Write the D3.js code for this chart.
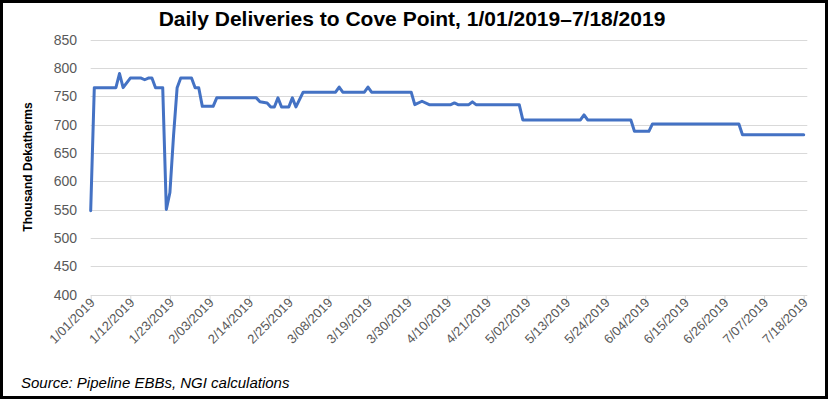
<!DOCTYPE html>
<html><head><meta charset="utf-8">
<script src="https://cdn.jsdelivr.net/npm/d3@7"></script>
<style>html,body{margin:0;padding:0;background:#fff;}svg{display:block;}</style>
</head><body>
<script>
// ---- data (vertices of the line) ----
const dates = ["2019-01-01","2019-01-02","2019-01-08","2019-01-09","2019-01-10","2019-01-12","2019-01-15","2019-01-16","2019-01-17","2019-01-18","2019-01-19","2019-01-21","2019-01-22","2019-01-23","2019-01-24","2019-01-25","2019-01-26","2019-01-29","2019-01-30","2019-01-31","2019-02-01","2019-02-04","2019-02-05","2019-02-16","2019-02-17","2019-02-19","2019-02-20","2019-02-21","2019-02-22","2019-02-23","2019-02-25","2019-02-26","2019-02-27","2019-03-01","2019-03-10","2019-03-11","2019-03-12","2019-03-18","2019-03-19","2019-03-20","2019-03-31","2019-04-01","2019-04-03","2019-04-05","2019-04-11","2019-04-12","2019-04-13","2019-04-16","2019-04-17","2019-04-18","2019-04-30","2019-05-01","2019-05-17","2019-05-18","2019-05-19","2019-05-31","2019-06-01","2019-06-05","2019-06-06","2019-06-30","2019-07-01","2019-07-18"];
const deliveries = [548,765,765,790,765,782,782,779,782,782,765,765,550,580,680,765,782,782,765,765,732,732,747,747,740,738,731,731,747,731,731,747,731,757,757,766,757,757,766,757,757,735,741,735,735,738,735,735,740,735,735,708,708,717,708,708,688,688,701,701,682,682];
const yTicks = [400,450,500,550,600,650,700,750,800,850];
const xTickDates = ["2019-01-01","2019-01-12","2019-01-23","2019-02-03","2019-02-14","2019-02-25","2019-03-08","2019-03-19","2019-03-30","2019-04-10","2019-04-21","2019-05-02","2019-05-13","2019-05-24","2019-06-04","2019-06-15","2019-06-26","2019-07-07","2019-07-18"];
const titleText = "Daily Deliveries to Cove Point, 1/01/2019\u20137/18/2019";
const yTitle = "Thousand Dekatherms";
const sourceText = "Source: Pipeline EBBs, NGI calculations";

const W = 828, H = 399;
const parse = d3.utcParse("%Y-%m-%d");
const fmt = d3.utcFormat("%-m/%d/%Y");
const series = dates.map((d,i)=>({date:parse(d), v:deliveries[i]}));

const svg = d3.select("body").append("svg").attr("width",W).attr("height",H);
svg.append("rect").attr("width",W).attr("height",H).attr("fill","#000");
svg.append("rect").attr("x",3).attr("y",3).attr("width",W-6).attr("height",H-6).attr("fill","#fff");

const x = d3.scaleUtc().domain([parse("2019-01-01"), parse("2019-07-19")]).range([90.7, 807.3]);
const y = d3.scaleLinear().domain([400,850]).range([294.5, 39.5]);

const font = "'Liberation Sans', Arial, sans-serif";

// gridlines
svg.append("g").selectAll("line").data(yTicks.filter(t=>t>400)).join("line")
  .attr("x1",x.range()[0]).attr("x2",x.range()[1])
  .attr("y1",d=>Math.round(y(d))+0.5).attr("y2",d=>Math.round(y(d))+0.5)
  .attr("stroke","#d9d9d9").attr("stroke-width",1);

// y labels
svg.append("g").selectAll("text").data(yTicks).join("text")
  .attr("x",77).attr("y",d=>y(d)).attr("dy","0.36em")
  .attr("text-anchor","end").attr("font-family",font).attr("font-size",14)
  .attr("fill","#595959").text(d=>d);

// x axis
const xAxis = d3.axisBottom(x).tickValues(xTickDates.map(parse)).tickSize(5).tickFormat("");
const gx = svg.append("g").attr("transform",`translate(0,${Math.round(y(400))+0.5})`).call(xAxis);
gx.select(".domain").attr("stroke","#d9d9d9").attr("d",`M${x.range()[0]},0H${x.range()[1]}`);
gx.selectAll(".tick line").attr("stroke","#d9d9d9");

svg.append("g").selectAll("text").data(xTickDates.map(parse)).join("text")
  .attr("transform",d=>`translate(${x(d)+5},${y(400)+9}) rotate(-45)`)
  .attr("text-anchor","end").attr("font-family",font).attr("font-size",13)
  .attr("fill","#595959").text(d=>fmt(d));

// line
svg.append("path").datum(series)
  .attr("d", d3.line().x(d=>x(d.date)).y(d=>y(d.v)))
  .attr("fill","none").attr("stroke","#4472C4").attr("stroke-width",3)
  .attr("stroke-linejoin","round").attr("stroke-linecap","round");

// titles
svg.append("text").attr("x",412).attr("y",26).attr("text-anchor","middle")
  .attr("font-family",font).attr("font-size",21).attr("font-weight","bold").attr("fill","#000").text(titleText);
svg.append("text").attr("transform",`translate(32,${(y(400)+y(850))/2}) rotate(-90)`)
  .attr("text-anchor","middle").attr("font-family",font).attr("font-size",12).attr("font-weight","bold")
  .attr("fill","#000").text(yTitle);
svg.append("text").attr("x",21).attr("y",388).attr("font-family",font).attr("font-size",15)
  .attr("font-style","italic").attr("fill","#000").text(sourceText);
</script>
</body></html>
